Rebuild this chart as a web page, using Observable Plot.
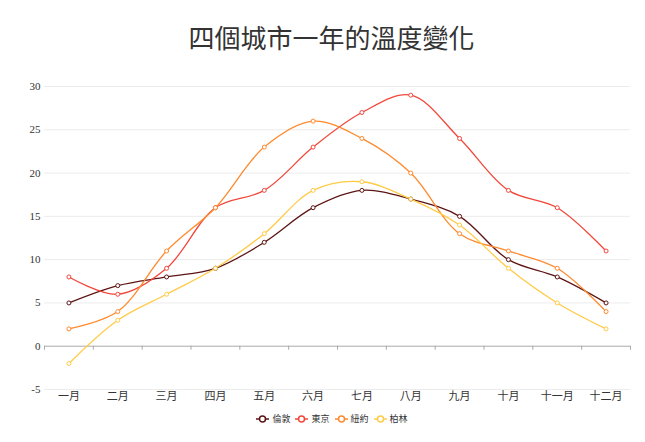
<!DOCTYPE html>
<html>
<head>
<meta charset="utf-8">
<script src="https://cdn.jsdelivr.net/npm/d3@7"></script>
<script src="https://cdn.jsdelivr.net/npm/@observablehq/plot@0.6"></script>
<style>
  html, body { margin: 0; padding: 0; background: #fff; }
  #wrap { width: 645px; font-family: "Noto Sans CJK TC", "Noto Sans", sans-serif; }
  #title { height: 58px; box-sizing: border-box; padding-top: 19px; padding-left: 18px; line-height: 36px; text-align: center; font-size: 26px; color: #333; }
  #legend { height: 21px; display: flex; justify-content: center; align-items: center; font-size: 9px; color: #333; gap: 5px; padding-left: 19px; box-sizing: border-box; }
  .item { display: flex; align-items: center; gap: 3px; }
</style>
</head>
<body>
<div id="wrap">
  <div id="title">四個城市一年的溫度變化</div>
  <div id="chart"></div>
  <div id="legend"></div>
</div>
<script>
const months = ["一月","二月","三月","四月","五月","六月","七月","八月","九月","十月","十一月","十二月"];
const cities = ["倫敦","東京","紐約","柏林"];
const london  = [5, 7, 8, 9, 12, 16, 18, 17, 15, 10, 8, 5];
const tokyo   = [8, 6, 9, 16, 18, 23, 27, 29, 24, 18, 16, 11];
const newyork = [2, 4, 11, 16, 23, 26, 24, 20, 13, 11, 9, 4];
const berlin  = [-2, 3, 6, 9, 13, 18, 19, 17, 14, 9, 5, 2];
const yTicks  = [-5, 0, 5, 10, 15, 20, 25, 30];
const colors  = ["#5e1414", "#f2473b", "#ff8a2e", "#ffcb47"];

const series = [london, tokyo, newyork, berlin];
const data = [];
series.forEach((vals, i) => vals.forEach((v, j) => data.push({city: cities[i], month: months[j], temp: v})));

const W = 645, H = 350, mL = 44, mR = 15, mT = 28, mB = 19;
const step = (W - mL - mR) / months.length;

const chart = Plot.plot({
  width: W, height: H,
  marginLeft: mL, marginRight: mR, marginTop: mT, marginBottom: mB,
  style: {fontFamily: '"Noto Sans CJK TC", sans-serif', fontSize: "11px", color: "#333", background: "#fff"},
  x: {type: "point", domain: months, padding: 0.5, round: false},
  y: {domain: [-5, 30]},
  color: {domain: cities, range: colors},
  marks: [
    Plot.ruleY(yTicks.filter(d => d !== 0), {y: d => d, stroke: "#ececec", strokeWidth: 1}),
    Plot.ruleY([0], {stroke: "#aaa", strokeWidth: 1}),
    Plot.ruleX(months, {x: d => d, y1: 0, y2: 0, insetBottom: -4, dx: -step / 2, stroke: "#aaa"}),
    Plot.ruleX([months[months.length - 1]], {x: d => d, y1: 0, y2: 0, insetBottom: -4, dx: step / 2, stroke: "#aaa"}),
    Plot.axisY(yTicks, {tickSize: 0, tickPadding: 4, label: null, tickFormat: d => String(d), fontFamily: '"Liberation Serif", "Times New Roman", serif', fontSize: 11, fill: "#333"}),
    Plot.axisX(months, {anchor: "bottom", tickSize: 0, tickPadding: 3, label: null, fontSize: 11, fill: "#333"}),
    Plot.line(data, {x: "month", y: "temp", z: "city", stroke: "city", strokeWidth: 1.3, curve: "catmull-rom"}),
    Plot.dot(data, {x: "month", y: "temp", stroke: "city", fill: "#fff", r: 2, strokeWidth: 1})
  ]
});
document.getElementById("chart").appendChild(chart);

const legend = document.getElementById("legend");
cities.forEach((c, i) => {
  const item = document.createElement("div");
  item.className = "item";
  item.innerHTML = `<svg width="13" height="10"><line x1="0" y1="5" x2="13" y2="5" stroke="${colors[i]}" stroke-width="1.5"/><circle cx="6.5" cy="5" r="3" fill="#fff" stroke="${colors[i]}" stroke-width="1.5"/></svg><span>${c}</span>`;
  legend.appendChild(item);
});
</script>
</body>
</html>
